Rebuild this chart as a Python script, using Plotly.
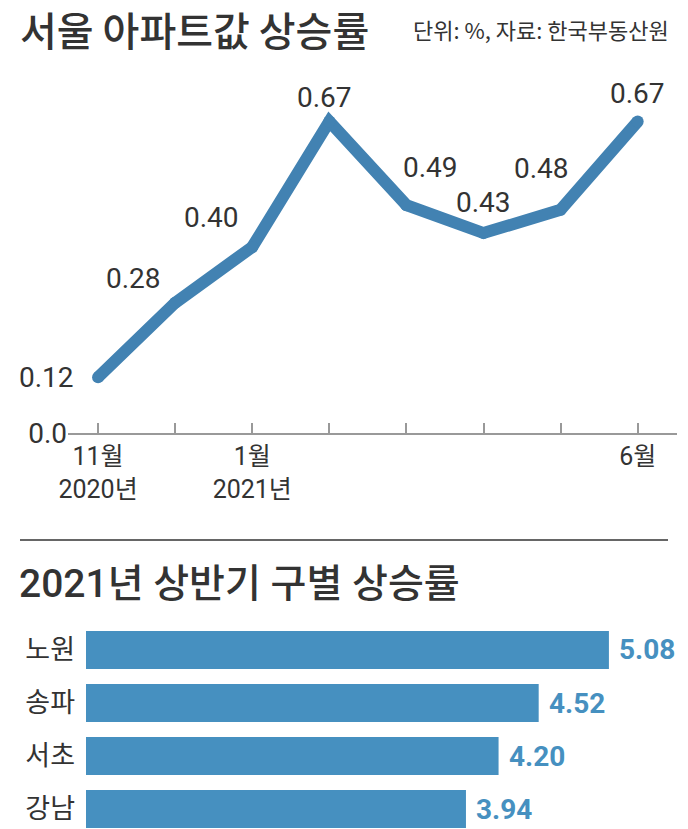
import plotly.graph_objects as go

# Seoul apartment price change, monthly (%)
months = ["11월<br>2020년", "12월", "1월<br>2021년", "2월", "3월", "4월", "5월", "6월"]
month_ticks = ["11월<br>2020년", "", "1월<br>2021년", "", "", "", "", "6월"]
rates = [0.12, 0.28, 0.40, 0.67, 0.49, 0.43, 0.48, 0.67]

# 2021 first half, by district (%)
districts = ["노원", "송파", "서초", "강남"]
district_rates = [5.08, 4.52, 4.20, 3.94]

W, H = 688, 829
NUM_FONT = "Roboto, Noto Sans CJK KR"
KR_FONT = "Noto Sans CJK KR"
DARK = "#333333"
LINE_BLUE = "#4282b2"
BAR_BLUE = "#4690c0"


def px_x(p):
    return p / W


def px_y(p):
    return 1 - p / H


fig = go.Figure()

# Line chart
idx = list(range(len(rates)))
fig.add_trace(go.Scatter(
    x=idx, y=rates, mode="lines+markers",
    line=dict(color=LINE_BLUE, width=12),
    marker=dict(color=LINE_BLUE, size=12),
    cliponaxis=False, hoverinfo="skip", showlegend=False,
    xaxis="x", yaxis="y",
))

# label offsets (pixels) for each point value
label_shift = [(-22, 0), (-42, 24), (-41, 30), (-5, 24), (24, 38), (0, 31), (-19, 41), (0, 28)]
for i, v in enumerate(rates):
    dx, dy = label_shift[i]
    fig.add_annotation(
        x=i, y=v, xref="x", yref="y", text=f"{v:.2f}", showarrow=False,
        xanchor="right" if i == 0 else "center", yanchor="middle",
        xshift=dx, yshift=dy,
        font=dict(family=NUM_FONT, size=28, color=DARK),
    )

# Bar chart
fig.add_trace(go.Bar(
    x=district_rates, y=districts, orientation="h",
    marker=dict(color=BAR_BLUE, line=dict(width=0)),
    width=0.717, hoverinfo="skip", showlegend=False,
    xaxis="x2", yaxis="y2",
))
for d, v in zip(districts, district_rates):
    fig.add_annotation(
        x=v, y=d, xref="x2", yref="y2", text=f"<b>{v:.2f}</b>", showarrow=False,
        xanchor="left", yanchor="middle", xshift=8,
        font=dict(family=NUM_FONT, size=28, color=BAR_BLUE),
    )

# Titles
fig.add_annotation(
    x=px_x(18), y=px_y(29), xref="paper", yref="paper", text="서울 아파트값 상승률",
    showarrow=False, xanchor="left", yanchor="middle",
    font=dict(family=KR_FONT, size=40, color=DARK, weight=500),
)
fig.add_annotation(
    x=px_x(671), y=px_y(29), xref="paper", yref="paper", text="단위: %, 자료: 한국부동산원",
    showarrow=False, xanchor="right", yanchor="middle",
    font=dict(family=KR_FONT, size=22, color=DARK),
)
fig.add_annotation(
    x=px_x(17), y=px_y(584), xref="paper", yref="paper", text="2021년 상반기 구별 상승률",
    showarrow=False, xanchor="left", yanchor="middle",
    font=dict(family=NUM_FONT, size=39, color=DARK, weight=500),
)

# divider
fig.add_shape(
    type="line", xref="paper", yref="paper",
    x0=px_x(20), x1=px_x(668), y0=px_y(540), y1=px_y(540),
    line=dict(color=DARK, width=1.5),
)

fig.update_layout(
    width=W, height=H,
    margin=dict(l=0, r=0, t=0, b=0, autoexpand=False),
    paper_bgcolor="white", plot_bgcolor="white",
    xaxis=dict(
        domain=[px_x(68), px_x(677)], range=[-0.39, 7.51],
        tickvals=idx, ticktext=month_ticks,
        ticks="inside", ticklen=10, tickwidth=1.5, tickcolor="#999999",
        showline=True, linecolor="#999999", linewidth=2,
        showgrid=False, zeroline=False, automargin=False,
        tickfont=dict(family=NUM_FONT, size=25, color=DARK),
        anchor="y",
    ),
    yaxis=dict(
        domain=[px_y(433), px_y(60)], range=[0, (433 - 60) / 465],
        tickvals=[0], ticktext=["0.0"], ticks="",
        showgrid=False, zeroline=False, showline=False, automargin=False,
        tickfont=dict(family=NUM_FONT, size=28, color=DARK),
        anchor="x",
    ),
    xaxis2=dict(
        domain=[px_x(86), 1], range=[0.91, 0.91 + 602 / 125.4],
        visible=False, automargin=False, anchor="y2",
    ),
    yaxis2=dict(
        domain=[0, px_y(615)], range=[3.377, -0.66],
        type="category", categoryorder="array", categoryarray=districts,
        showgrid=False, zeroline=False, showline=False, ticks="",
        ticklabelstandoff=10, automargin=False,
        tickfont=dict(family=KR_FONT, size=27, color=DARK),
        anchor="x2",
    ),
)

fig.write_html(
    "out.html",
    config={"displayModeBar": False},
    post_script="document.body.style.margin='0';",
)
